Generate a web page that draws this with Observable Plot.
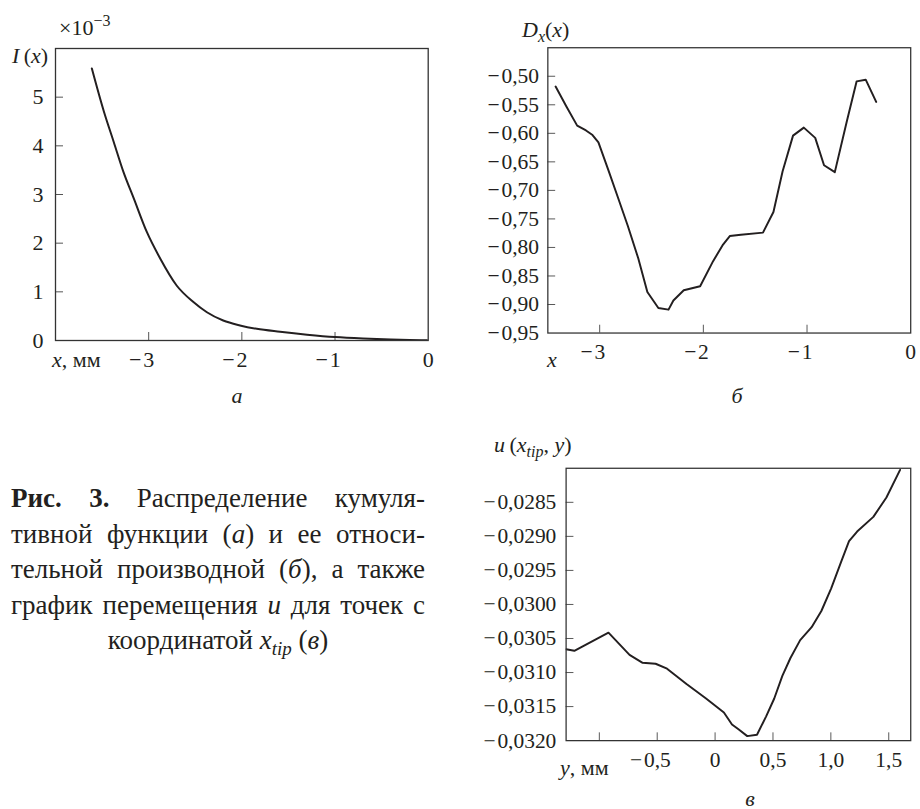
<!DOCTYPE html>
<html><head><meta charset="utf-8">
<script src="https://cdn.jsdelivr.net/npm/d3@7"></script>
<script src="https://cdn.jsdelivr.net/npm/@observablehq/plot@0.6"></script>
<style>
html,body{margin:0;padding:0;background:#fff;overflow:hidden}
#page{position:relative;width:920px;height:809px;overflow:hidden;font-family:"Liberation Serif","Times New Roman",serif;color:#231f20}
.plot{position:absolute}
.lab{position:absolute;white-space:nowrap;font-size:22px;line-height:22px}
.lab i{font-style:italic}
.sub{position:relative;top:5px;font-size:16px}
.sup{position:relative;top:-9px;font-size:16px}
.mid{transform:translateX(-50%)}
#cap{position:absolute;left:11px;top:481px;width:414px;font-size:27px;line-height:35.5px}
#cap div{text-align:justify;text-align-last:justify;white-space:nowrap}
#cap div.last{text-align:center;text-align-last:center}
#cap .csub{position:relative;top:6px;font-size:19px}
</style></head>
<body><div id="page">
<div id="pa" class="plot" style="left:0;top:0"></div>
<div id="pb" class="plot" style="left:460px;top:0"></div>
<div id="pc" class="plot" style="left:460px;top:420px"></div>

<div class="lab" style="left:59px;top:16.6px">×10<span class="sup">−3</span></div>
<div class="lab" style="left:12px;top:44.6px"><i>I</i>&#8201;(<i>x</i>)</div>
<div class="lab" style="left:52px;top:348.6px"><i>x</i>, мм</div>
<div class="lab mid" style="left:237px;top:384.6px"><i>а</i></div>

<div class="lab" style="left:522px;top:18.6px"><i>D</i><span class="sub"><i>x</i></span>(<i>x</i>)</div>
<div class="lab" style="left:547px;top:348.6px"><i>x</i></div>
<div class="lab mid" style="left:737px;top:384.6px"><i>б</i></div>

<div class="lab" style="left:494px;top:433.6px"><i>u</i>&#8201;(<i>x</i><span class="sub"><i>tip</i></span>, <i>y</i>)</div>
<div class="lab" style="left:560px;top:756.6px"><i>y</i>, мм</div>
<div class="lab mid" style="left:750px;top:790.5px;line-height:16px"><i>в</i></div>

<div id="cap">
<div><b>Рис. 3.</b> Распределение кумуля-</div>
<div>тивной функции (<i>а</i>) и ее относи-</div>
<div>тельной производной (<i>б</i>), а также</div>
<div>график перемещения <i>u</i> для точек с</div>
<div class="last">координатой <i>x<span class="csub">tip</span></i> (<i>в</i>)</div>
</div>
</div>
<script>
// ---- data (a): cumulative function I(x), units of 1e-3
const aX = [-3.61, -3.48, -3.375, -3.27, -3.16, -3.02, -2.875, -2.70, -2.52, -2.375, -2.20, -2.02, -1.84, -1.59, -1.30, -1.0, -0.7, -0.4, -0.2, 0];
const aI = [5.59, 4.70, 4.08, 3.46, 2.92, 2.23, 1.68, 1.13, 0.79, 0.58, 0.41, 0.31, 0.24, 0.18, 0.12, 0.07, 0.04, 0.02, 0.01, 0.005];
const aXTicks = [-3, -2, -1, 0];
const aYTicks = [0, 1, 2, 3, 4, 5];

// ---- data (б): relative derivative Dx(x)
const bX = [-3.425, -3.321, -3.217, -3.132, -3.069, -3.012, -2.911, -2.817, -2.729, -2.628, -2.54, -2.434, -2.336, -2.289, -2.189, -2.031, -1.906, -1.81, -1.745, -1.638, -1.425, -1.324, -1.236, -1.135, -1.031, -0.921, -0.836, -0.732, -0.616, -0.522, -0.434, -0.333];
const bD = [-0.518, -0.553, -0.5865, -0.595, -0.603, -0.616, -0.667, -0.716, -0.762, -0.819, -0.878, -0.906, -0.909, -0.893, -0.875, -0.868, -0.824, -0.795, -0.780, -0.7776, -0.774, -0.738, -0.667, -0.604, -0.590, -0.608, -0.656, -0.668, -0.579, -0.509, -0.506, -0.545];
const bXTicks = [-3, -2, -1, 0];
const bYTicks = [-0.50, -0.55, -0.60, -0.65, -0.70, -0.75, -0.80, -0.85, -0.90, -0.95];

// ---- data (в): displacement u(x_tip, y)
const cY = [-1.287, -1.216, -0.921, -0.739, -0.626, -0.514, -0.415, -0.247, -0.078, 0.076, 0.146, 0.202, 0.278, 0.362, 0.441, 0.511, 0.581, 0.651, 0.735, 0.834, 0.918, 1.003, 1.087, 1.157, 1.227, 1.367, 1.48, 1.598];
const cU = [-0.030657, -0.030681, -0.030414, -0.03074, -0.030857, -0.030871, -0.030943, -0.031167, -0.031381, -0.031586, -0.031763, -0.031834, -0.031934, -0.031914, -0.031643, -0.031381, -0.031049, -0.030786, -0.030524, -0.030334, -0.030096, -0.029763, -0.029381, -0.029071, -0.028929, -0.028714, -0.028429, -0.028024];
const cXTicks = [-1, -0.5, 0, 0.5, 1.0, 1.5];
const cXLabels = [-0.5, 0, 0.5, 1.0, 1.5];
const cYTicks = [-0.0285, -0.0290, -0.0295, -0.0300, -0.0305, -0.0310, -0.0315, -0.0320];

const fmt = digits => d => {
  const s = Math.abs(d).toFixed(digits).replace(".", ",");
  return d < 0 ? "\u2212\u200A" + s : s;
};
const ink = "#231f20";
const style = {fontFamily: "'Liberation Serif', 'Times New Roman', serif", fontSize: "22px", color: ink, background: "transparent", overflow: "visible"};

function panel({width, height, ml, mr, mt, mb, xd, yd, xTicks, xMarks, yTicks, yMarks, xf, yf, data, curve, ypad}) {
  const innerW = width - ml - mr, innerH = height - mt - mb;
  const neg = xTicks.filter(d => d < 0), pos = xTicks.filter(d => d >= 0);
  return Plot.plot({
    width, height, marginLeft: ml, marginRight: mr, marginTop: mt, marginBottom: mb,
    x: {domain: xd}, y: {domain: yd},
    style,
    marks: [
      Plot.tickX(xMarks, {x: d => d, insetTop: innerH - 8, stroke: "#555", strokeWidth: 1}),
      Plot.tickY(yMarks, {y: d => d, insetRight: innerW - 8, stroke: "#555", strokeWidth: 1}),
      Plot.axisX(neg, {tickSize: 0, tickPadding: 11, tickFormat: xf, dx: -7, label: null}),
      Plot.axisX(pos, {tickSize: 0, tickPadding: 11, tickFormat: xf, label: null}),
      Plot.axisY(yTicks, {tickSize: 0, tickPadding: ypad, tickFormat: yf, label: null}),
      Plot.line(data, {x: "x", y: "y", stroke: ink, strokeWidth: 2, curve, clip: true}),
      Plot.frame({stroke: "#333", strokeWidth: 1.3})
    ]
  });
}

document.getElementById("pa").append(panel({
  width: 440, height: 380, ml: 55, mr: 12.3, mt: 48, mb: 40,
  xd: [-4, 0], yd: [0, 6], xTicks: aXTicks, xMarks: aXTicks.slice(0, 3), yTicks: aYTicks, yMarks: aYTicks.slice(1),
  xf: fmt(0), yf: fmt(0), ypad: 12,
  data: aX.map((x, i) => ({x, y: aI[i]})), curve: "monotone-x"
}));

document.getElementById("pb").append(panel({
  width: 470.3, height: 380, ml: 89.3, mr: 10, mt: 48.3, mb: 40,
  xd: [-3.5, 0], yd: [-0.95, -0.45], xTicks: bXTicks, xMarks: bXTicks.slice(0, 3), yTicks: bYTicks, yMarks: bYTicks.slice(0, 9),
  xf: fmt(0), yf: fmt(2), ypad: 9,
  data: bX.map((x, i) => ({x, y: bD[i]})), curve: "linear"
}));

document.getElementById("pc").append(panel({
  width: 471.7, height: 368.3, ml: 108.3, mr: 10, mt: 49, mb: 40,
  xd: [-1.287, 1.69], yd: [-0.0320, -0.0280], xTicks: cXLabels, xMarks: cXTicks, yTicks: cYTicks, yMarks: cYTicks.slice(0, 7),
  xf: d => fmt(d === 0 ? 0 : 1)(d), yf: fmt(4), ypad: 10,
  data: cY.map((x, i) => ({x, y: cU[i]})), curve: "linear"
}));
</script>
</body></html>
